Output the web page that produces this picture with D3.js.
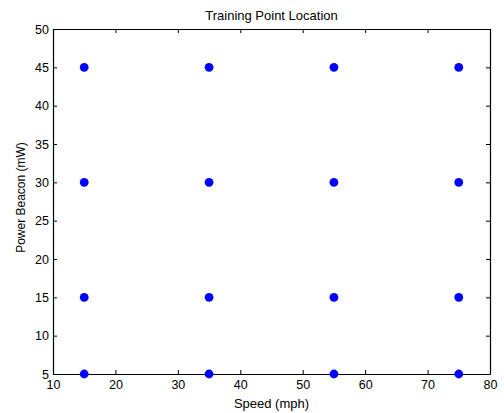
<!DOCTYPE html>
<html>
<head>
<meta charset="utf-8">
<script src="https://cdn.jsdelivr.net/npm/d3@7"></script>
<style>
  body { margin: 0; background: #fff; }
  svg { display: block; font-family: "Liberation Sans", Arial, sans-serif; }
</style>
</head>
<body>
<svg id="chart" width="504" height="413"></svg>
<script>
// training point grid
const speeds = [15, 35, 55, 75];
const powers = [5, 15, 30, 45];
const xTicks = [10, 20, 30, 40, 50, 60, 70, 80];
const yTicks = [5, 10, 15, 20, 25, 30, 35, 40, 45, 50];

const points = [];
speeds.forEach(s => powers.forEach(p => points.push({ speed: s, power: p })));

const margin = { left: 53, right: 14, top: 29, bottom: 39 };
const W = 504, H = 413;
const svg = d3.select("#chart");

const x = d3.scaleLinear().domain([10, 80]).range([margin.left, W - margin.right]);
const y = d3.scaleLinear().domain([5, 50]).range([H - margin.bottom, margin.top]);

const TICK = 4;

// axes box with inward ticks on all sides
const axBottom = svg.append("g").attr("transform", `translate(0,${y(5)})`)
  .call(d3.axisBottom(x).tickValues(xTicks).tickSizeInner(-TICK).tickSizeOuter(0).tickPadding(6));
const axTop = svg.append("g").attr("transform", `translate(0,${y(50)})`)
  .call(d3.axisTop(x).tickValues(xTicks).tickSizeInner(-TICK).tickSizeOuter(0).tickFormat(""));
const axLeft = svg.append("g").attr("transform", `translate(${x(10)},0)`)
  .call(d3.axisLeft(y).tickValues(yTicks).tickSizeInner(-TICK).tickSizeOuter(0).tickPadding(4));
const axRight = svg.append("g").attr("transform", `translate(${x(80)},0)`)
  .call(d3.axisRight(y).tickValues(yTicks).tickSizeInner(-TICK).tickSizeOuter(0).tickFormat(""));

[axBottom, axTop, axLeft, axRight].forEach(a => {
  a.selectAll("path").attr("stroke", "#000").attr("stroke-width", 1.2);
  a.selectAll("line").attr("stroke", "#000");
  a.selectAll("text").attr("fill", "#000").style("font-size", "12.5px")
    .style("font-family", '"Liberation Sans", Arial, sans-serif');
});

svg.append("g").selectAll("circle")
  .data(points)
  .enter().append("circle")
  .attr("cx", d => x(d.speed))
  .attr("cy", d => y(d.power))
  .attr("r", 4.4)
  .attr("fill", "#0000ff");

svg.append("text")
  .attr("x", (x(10) + x(80)) / 2).attr("y", 20)
  .attr("text-anchor", "middle").style("font-size", "13px")
  .text("Training Point Location");

svg.append("text")
  .attr("x", (x(10) + x(80)) / 2).attr("y", 408)
  .attr("text-anchor", "middle").style("font-size", "13px")
  .text("Speed (mph)");

svg.append("text")
  .attr("transform", `translate(25,${(y(5) + y(50)) / 2 - 4}) rotate(-90)`)
  .attr("text-anchor", "middle").style("font-size", "12px")
  .text("Power Beacon (mW)");
</script>
</body>
</html>
